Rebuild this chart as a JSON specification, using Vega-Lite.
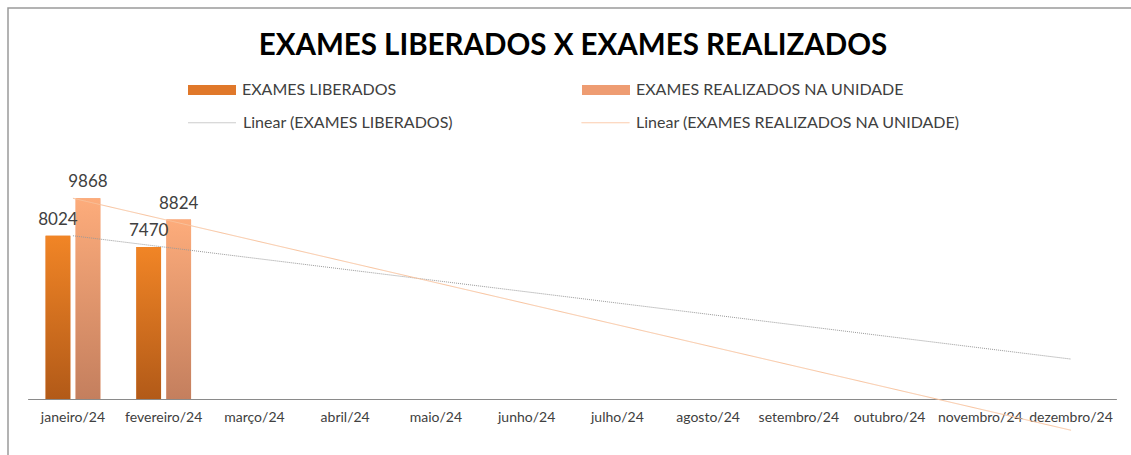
{
  "$schema": "https://vega.github.io/schema/vega-lite/v6.json",
  "width": 1130,
  "height": 452,
  "padding": {"left": 8, "top": 8, "right": 0, "bottom": 0},
  "background": "white",
  "config": {
    "view": {"stroke": "#9a9a9a", "strokeWidth": 1.5},
    "font": "Lato"
  },
  "title": {
    "text": "EXAMES LIBERADOS X EXAMES REALIZADOS",
    "font": "Lato",
    "fontSize": 29.5,
    "fontWeight": "bold",
    "color": "#000000",
    "anchor": "middle",
    "frame": "group",
    "baseline": "alphabetic",
    "offset": -76
  },
  "datasets": {
    "bars": [
      {"mes": "janeiro/24", "serie": "EXAMES LIBERADOS", "valor": 8024},
      {"mes": "janeiro/24", "serie": "EXAMES REALIZADOS NA UNIDADE", "valor": 9868},
      {"mes": "fevereiro/24", "serie": "EXAMES LIBERADOS", "valor": 7470},
      {"mes": "fevereiro/24", "serie": "EXAMES REALIZADOS NA UNIDADE", "valor": 8824}
    ],
    "trend": [
      {"mes": "janeiro/24", "serie": "Linear (EXAMES LIBERADOS)", "valor": 8024},
      {"mes": "dezembro/24", "serie": "Linear (EXAMES LIBERADOS)", "valor": 1960},
      {"mes": "janeiro/24", "serie": "Linear (EXAMES REALIZADOS NA UNIDADE)", "valor": 9868},
      {"mes": "dezembro/24", "serie": "Linear (EXAMES REALIZADOS NA UNIDADE)", "valor": -1540}
    ]
  },
  "encoding": {
    "x": {
      "field": "mes",
      "type": "nominal",
      "sort": null,
      "scale": {
        "domain": ["janeiro/24", "fevereiro/24", "março/24", "abril/24", "maio/24", "junho/24", "julho/24", "agosto/24", "setembro/24", "outubro/24", "novembro/24", "dezembro/24"],
        "range": [19.6, 1108.4],
        "paddingInner": 0,
        "paddingOuter": 0
      },
      "axis": {
        "title": null,
        "labelAngle": 0,
        "ticks": false,
        "domainColor": "#8a8a8a",
        "domainWidth": 1,
        "offset": -61,
        "labelFont": "Lato",
        "labelFontSize": 14,
        "labelColor": "#404040",
        "labelPadding": 11
      }
    },
    "y": {
      "field": "valor",
      "type": "quantitative",
      "scale": {"domain": [-2000, 10000], "range": [431.6, 187.6], "nice": false, "zero": false},
      "axis": null
    }
  },
  "layer": [
    {
      "data": {"name": "bars"},
      "mark": {"type": "bar"},
      "encoding": {
        "xOffset": {"field": "serie", "type": "nominal", "scale": {"domain": ["EXAMES LIBERADOS", "EXAMES REALIZADOS NA UNIDADE"], "paddingInner": 0.177, "paddingOuter": 0.6}},
        "y2": {"datum": 0},
        "fill": {
          "field": "serie",
          "type": "nominal",
          "scale": {"domain": ["EXAMES LIBERADOS", "EXAMES REALIZADOS NA UNIDADE"], "range": ["#E0782A", "#EE9C72"]},
          "legend": {
            "title": null,
            "orient": "none",
            "legendX": 180,
            "legendY": 58,
            "direction": "horizontal",
            "columns": 2,
            "columnPadding": 185,
            "symbolType": "M-1,-0.21H1V0.21H-1Z",
            "symbolSize": 2304,
            "symbolStrokeWidth": 0,
            "labelFont": "Lato",
            "labelFontSize": 16,
            "labelColor": "#404040",
            "labelOffset": 6,
            "labelLimit": 400
          }
        }
      }
    },
    {
      "data": {"name": "bars"},
      "transform": [{"filter": "datum.serie === 'EXAMES LIBERADOS'"}],
      "mark": {
        "type": "bar",
        "fill": {"gradient": "linear", "x1": 0, "y1": 0, "x2": 0, "y2": 1, "stops": [{"offset": 0, "color": "#F18526"}, {"offset": 1, "color": "#B25A18"}]}
      },
      "encoding": {
        "xOffset": {"field": "serie", "type": "nominal", "scale": {"domain": ["EXAMES LIBERADOS", "EXAMES REALIZADOS NA UNIDADE"]}},
        "y2": {"datum": 0}
      }
    },
    {
      "data": {"name": "bars"},
      "transform": [{"filter": "datum.serie === 'EXAMES REALIZADOS NA UNIDADE'"}],
      "mark": {
        "type": "bar",
        "fill": {"gradient": "linear", "x1": 0, "y1": 0, "x2": 0, "y2": 1, "stops": [{"offset": 0, "color": "#FDAC7B"}, {"offset": 1, "color": "#C47F5E"}]}
      },
      "encoding": {
        "xOffset": {"field": "serie", "type": "nominal", "scale": {"domain": ["EXAMES LIBERADOS", "EXAMES REALIZADOS NA UNIDADE"]}},
        "y2": {"datum": 0}
      }
    },
    {
      "data": {"name": "bars"},
      "mark": {"type": "text", "baseline": "bottom", "dy": -7, "font": "Lato", "fontSize": 17, "color": "#404040"},
      "encoding": {
        "xOffset": {"field": "serie", "type": "nominal", "scale": {"domain": ["EXAMES LIBERADOS", "EXAMES REALIZADOS NA UNIDADE"]}},
        "text": {"field": "valor", "type": "quantitative", "format": "d"}
      }
    },
    {
      "data": {"name": "trend"},
      "mark": {"type": "line", "strokeWidth": 1},
      "encoding": {
        "stroke": {
          "field": "serie",
          "type": "nominal",
          "scale": {"domain": ["Linear (EXAMES LIBERADOS)", "Linear (EXAMES REALIZADOS NA UNIDADE)"], "range": ["#9a9a9a", "#F9C29C"]},
          "legend": {
            "title": null,
            "orient": "none",
            "legendX": 180,
            "legendY": 90,
            "direction": "horizontal",
            "columns": 2,
            "columnPadding": 126,
            "symbolType": "stroke",
            "symbolSize": 2304,
            "symbolStrokeWidth": 1,
            "labelFont": "Lato",
            "labelFontSize": 16,
            "labelColor": "#404040",
            "labelOffset": 6,
            "labelLimit": 400
          }
        },
        "strokeDash": {
          "field": "serie",
          "type": "nominal",
          "scale": {"domain": ["Linear (EXAMES LIBERADOS)", "Linear (EXAMES REALIZADOS NA UNIDADE)"], "range": [[1, 1], [1, 0]]},
          "legend": {
            "title": null,
            "orient": "none",
            "legendX": 180,
            "legendY": 90,
            "direction": "horizontal",
            "columns": 2,
            "columnPadding": 126,
            "symbolType": "stroke",
            "symbolSize": 2304,
            "symbolStrokeWidth": 1,
            "labelFont": "Lato",
            "labelFontSize": 16,
            "labelColor": "#404040",
            "labelOffset": 6,
            "labelLimit": 400
          }
        }
      }
    }
  ]
}
